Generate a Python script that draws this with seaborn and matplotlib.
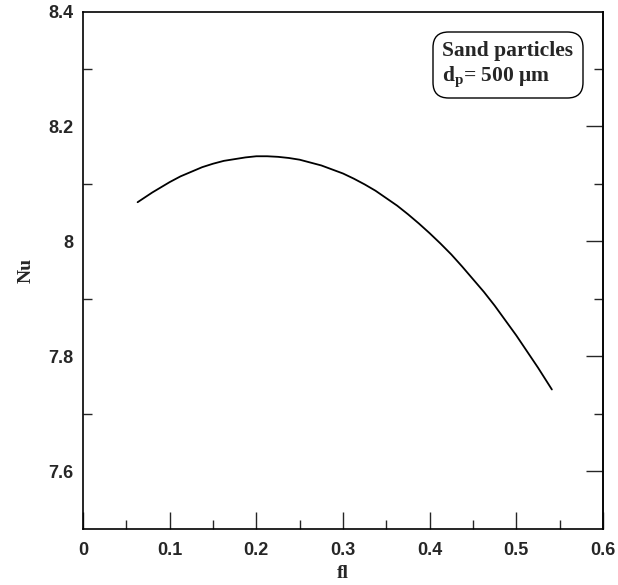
import matplotlib
matplotlib.use("Agg")
import matplotlib.pyplot as plt
import seaborn as sns
import pandas as pd
from matplotlib.ticker import FixedLocator
from matplotlib.patches import FancyBboxPatch

# Data
fl = [0.063, 0.07, 0.08, 0.09, 0.10, 0.1125, 0.125, 0.1375, 0.15, 0.1625, 0.175,
      0.1875, 0.20, 0.2125, 0.225, 0.2375, 0.25, 0.2625, 0.275, 0.2875, 0.30,
      0.3125, 0.325, 0.3375, 0.35, 0.3625, 0.375, 0.3875, 0.40, 0.4125, 0.425,
      0.4375, 0.45, 0.4625, 0.475, 0.4875, 0.50, 0.5125, 0.525, 0.533, 0.541]
nu = [8.068, 8.075, 8.085, 8.094, 8.103, 8.113, 8.121, 8.129, 8.135, 8.140, 8.143,
      8.146, 8.148, 8.148, 8.147, 8.145, 8.142, 8.137, 8.132, 8.125, 8.118,
      8.109, 8.099, 8.088, 8.075, 8.062, 8.047, 8.031, 8.014, 7.996, 7.977,
      7.956, 7.934, 7.912, 7.888, 7.862, 7.836, 7.808, 7.780, 7.761, 7.742]

x_major = [0, 0.1, 0.2, 0.3, 0.4, 0.5, 0.6]
x_labels = ["0", "0.1", "0.2", "0.3", "0.4", "0.5", "0.6"]
x_minor = [0.05, 0.15, 0.25, 0.35, 0.45, 0.55]
y_major = [7.6, 7.8, 8.0, 8.2, 8.4]
y_labels = ["7.6", "7.8", "8", "8.2", "8.4"]
y_minor = [7.7, 7.9, 8.1, 8.3]

sns.set_style("ticks")
plt.rcParams['font.family'] = ['Liberation Sans', 'DejaVu Sans']
plt.rcParams['mathtext.fontset'] = 'custom'
plt.rcParams['mathtext.rm'] = 'Liberation Serif:bold'
plt.rcParams['mathtext.it'] = 'Liberation Serif:bold'
plt.rcParams['mathtext.bf'] = 'Liberation Serif:bold'

fig = plt.figure(figsize=(6.18, 5.85), dpi=100)
ax = fig.add_axes([83/618, 1-528.5/585, 520/618, 517/585])

df = pd.DataFrame({"fl": fl, "Nu": nu})
sns.lineplot(data=df, x="fl", y="Nu", color="black", lw=1.3, ax=ax)

ax.set_xlim(0, 0.6)
ax.set_ylim(7.5, 8.4)

for s in ax.spines.values():
    s.set_linewidth(1.2)
    s.set_color("black")

ax.xaxis.set_major_locator(FixedLocator(x_major))
ax.set_xticklabels(x_labels)
ax.xaxis.set_minor_locator(FixedLocator(x_minor))
ax.yaxis.set_major_locator(FixedLocator(y_major))
ax.set_yticklabels(y_labels)
ax.yaxis.set_minor_locator(FixedLocator(y_minor))

ax.tick_params(axis='x', which='major', direction='in', length=12.5, width=1,
               top=False, bottom=True, pad=10, labelsize=13)
ax.tick_params(axis='x', which='minor', direction='in', length=6.5, width=1,
               top=False, bottom=True)
ax.tick_params(axis='y', which='major', direction='in', length=0, width=1,
               left=True, right=False, pad=7, labelsize=13)
ax.tick_params(axis='y', which='minor', direction='in', length=6.5, width=1,
               left=True, right=True)
for lab in ax.get_xticklabels() + ax.get_yticklabels():
    lab.set_fontweight('bold')

# right side major ticks (longer)
sec = ax.secondary_yaxis('right')
sec.yaxis.set_major_locator(FixedLocator(y_major[:-1]))
sec.tick_params(axis='y', which='major', direction='in', length=12.5, width=1,
                labelright=False)
sec.yaxis.set_minor_locator(FixedLocator([]))
sec.spines['right'].set_linewidth(1.2)

ax.set_xlabel("fl", fontfamily="Liberation Serif", fontweight="bold", fontsize=14)
ax.xaxis.set_label_coords(0.5, -(565-528.5)/517)
ax.set_ylabel("Nu", fontfamily="Liberation Serif", fontweight="bold", fontsize=14)
ax.yaxis.set_label_coords(-(83-35)/520, 0.5)

box = FancyBboxPatch(((433-83)/520, (528.5-98)/517), 150/520, 66/517,
                     boxstyle="round,pad=0,rounding_size=0.03",
                     transform=ax.transAxes, fc="white", ec="black", lw=1, zorder=5)
ax.add_patch(box)
ax.text((508-83)/520, (528.5-65)/517, "Sand particles\n$\\mathrm{d_p}$= 500 \u03bcm",
        transform=ax.transAxes, ha='center', va='center', multialignment='left',
        fontfamily="Liberation Serif", fontweight="bold", fontsize=15.5, linespacing=1.25,
        zorder=6)

fig.savefig("out.png", dpi=100)
